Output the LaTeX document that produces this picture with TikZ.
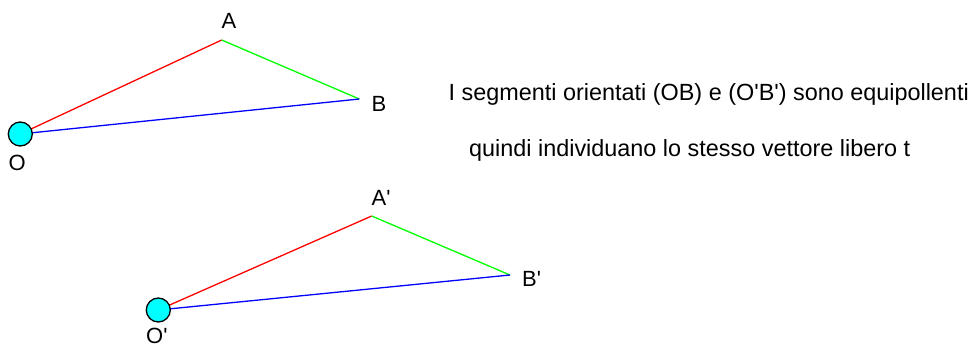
\documentclass[tikz,border=0pt]{standalone}
\usepackage{fontspec}
\newfontfamily\arialf{Liberation Sans}
\definecolor{cyn}{RGB}{0,255,255}
\definecolor{rd}{RGB}{255,0,0}
\definecolor{gr}{RGB}{0,255,0}
\definecolor{bl}{RGB}{0,0,255}
\begin{document}
\begin{tikzpicture}[x=1pt,y=-1pt,
  pt/.style={circle,draw=black,fill=cyn,line width=1.3pt,minimum size=24pt,inner sep=0pt},
  lbl/.style={anchor=base west,inner sep=0pt,font=\arialf\fontsize{22}{24}\selectfont},
  txt/.style={anchor=base west,inner sep=0pt,font=\arialf\fontsize{23.4}{26}\selectfont},
  seg/.style={line width=1.3pt}]
\useasboundingbox (0,0) rectangle (969,345);
% first triangle
\coordinate (Oc) at (20.3,134);
\coordinate (A) at (221.7,40);
\coordinate (B) at (359.3,99);
\draw[seg,rd] (Oc) -- (A);
\draw[seg,gr] (A) -- (B);
\draw[seg,bl] (Oc) -- (B);
\node[pt] (O) at (Oc) {};
\node[lbl] (lA) at (221.5,28.5) {A};
\node[lbl] (lB) at (371.5,111) {B};
\node[lbl] (lO) at (8.5,170) {O};
% second triangle
\coordinate (O2c) at (158.3,310);
\coordinate (A2) at (371.7,216);
\coordinate (B2) at (510,275);
\draw[seg,rd] (O2c) -- (A2);
\draw[seg,gr] (A2) -- (B2);
\draw[seg,bl] (O2c) -- (B2);
\node[pt] (O2) at (O2c) {};
\node[lbl] (lA2) at (371.5,205.5) {A'};
\node[lbl] (lB2) at (522,286.7) {B'};
\node[lbl] (lO2) at (146,343) {O'};
% text
\node[txt] (t1) at (448.5,100) {I segmenti orientati (OB) e (O'B') sono equipollenti};
\node[txt] (t2) at (469,156.5) {quindi individuano lo stesso vettore libero t};
\end{tikzpicture}
\end{document}
